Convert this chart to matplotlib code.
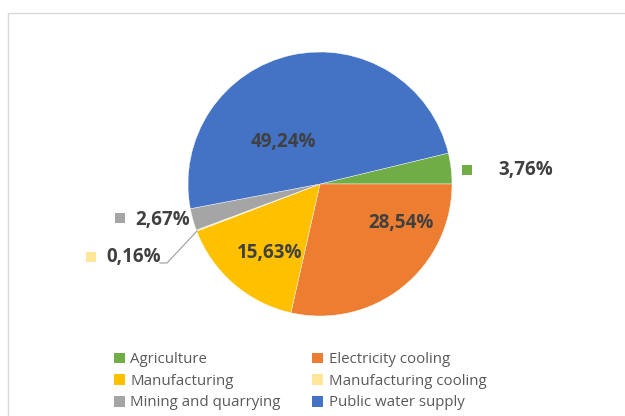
import matplotlib
matplotlib.use("Agg")
import matplotlib.pyplot as plt
from matplotlib.patches import Rectangle, Patch

categories = ["Agriculture", "Electricity cooling", "Manufacturing",
              "Manufacturing cooling", "Mining and quarrying", "Public water supply"]
values = [3.76, 28.54, 15.63, 0.16, 2.67, 49.24]
colors = ["#70AD47", "#ED7D31", "#FFC000", "#FFE699", "#A5A5A5", "#4472C4"]

plt.rcParams['font.family'] = ['Open Sans', 'DejaVu Sans']

W, H = 625, 416
fig = plt.figure(figsize=(W / 100, H / 100), dpi=100)
ax = fig.add_axes([0, 0, 1, 1])
ax.axis('off')

cx, cy, r = 320, H - 184, 132
start = values[0] * 3.6
ax.pie(values, colors=colors, startangle=start, counterclock=False,
       center=(cx, cy), radius=r, frame=True,
       wedgeprops=dict(edgecolor='white', linewidth=0.3))
ax.set_xlim(0, W)
ax.set_ylim(0, H)
ax.set_aspect('equal')
ax.axis('off')

# chart border
ax.add_patch(Rectangle((8, -10), W, H - 13 + 10, fill=False,
                       edgecolor='#d9d9d9', linewidth=1))

def fmt(v):
    return f"{v:.2f}%".replace('.', ',')

lab_color = '#404040'
fs = 13.5
# (value index, text left x, y from top)
label_pos = {
    5: (251, 142),
    1: (368, 223),
    2: (237, 253),
    0: (498, 170),
    4: (135, 220),
    3: (106, 257),
}
for i, (x, yt) in label_pos.items():
    ax.text(x, H - yt, fmt(values[i]), ha='left', va='center',
            fontsize=fs, fontweight='bold', color=lab_color, zorder=5)

marker_pos = {0: (467, 170), 4: (120, 218), 3: (91, 257), 2: (219, 253)}
for i, (mx, my) in marker_pos.items():
    a = 0.35 if i == 2 else 1.0
    ax.add_patch(Rectangle((mx - 5, H - my - 5), 10, 10, facecolor=colors[i],
                           edgecolor='none', alpha=a, zorder=4))

# leader line for 0,16%
ax.plot([160, 167, 197], [H - 263, H - 263, H - 231], color='#a6a6a6',
        linewidth=0.9, zorder=3)

order = [0, 2, 4, 1, 3, 5]
handles = [Patch(facecolor=colors[i], edgecolor='none') for i in order]
labels = [categories[i] for i in order]
leg = ax.legend(handles, labels, ncol=2, loc='upper left',
                bbox_to_anchor=(114 / W, 1 - 352 / H), frameon=False,
                fontsize=10.8, labelcolor='#595959', handlelength=0.7,
                handleheight=0.7, handletextpad=0.4, columnspacing=2.1,
                labelspacing=0.45, borderaxespad=0, borderpad=0)

fig.savefig("out.png", dpi=100, facecolor='white')
